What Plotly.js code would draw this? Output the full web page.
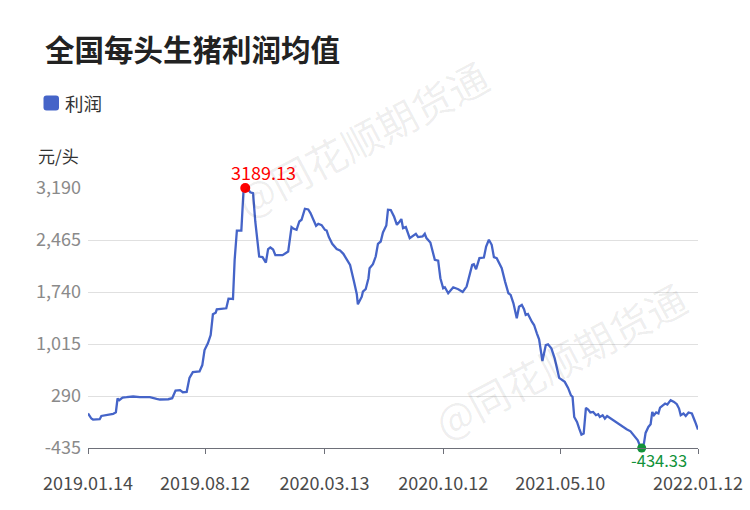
<!DOCTYPE html>
<html>
<head>
<meta charset="utf-8">
<script src="https://cdn.plot.ly/plotly-3.0.1.min.js"></script>
<style>
html,body{margin:0;padding:0;background:#fff;}
#chart{width:750px;height:510px;}
</style>
</head>
<body>
<div id="chart"></div>
<script>
const seriesName = '利润';
const dates = [
'2019-01-14','2019-01-20','2019-01-23','2019-02-04','2019-02-07','2019-02-16','2019-02-28','2019-03-05','2019-03-08','2019-03-11',
'2019-03-17','2019-03-24','2019-04-05','2019-04-17','2019-05-05','2019-05-17','2019-05-23','2019-06-07','2019-06-14','2019-06-20',
'2019-06-28','2019-07-03','2019-07-10','2019-07-15','2019-07-21','2019-08-02','2019-08-07','2019-08-11','2019-08-17','2019-08-22',
'2019-08-26','2019-08-31','2019-09-02','2019-09-19','2019-09-23','2019-10-01','2019-10-04','2019-10-08','2019-10-16','2019-10-20',
'2019-10-23','2019-10-28','2019-11-01','2019-11-06','2019-11-10','2019-11-17','2019-11-23','2019-11-29','2019-12-03','2019-12-07',
'2019-12-12','2019-12-16','2019-12-29','2020-01-08','2020-01-14','2020-01-18','2020-01-23','2020-01-28','2020-02-01','2020-02-07',
'2020-02-13','2020-02-17','2020-02-22','2020-02-27','2020-03-02','2020-03-08','2020-03-14','2020-03-17','2020-03-21','2020-03-27',
'2020-04-04','2020-04-10','2020-04-16','2020-04-28','2020-05-05','2020-05-10','2020-05-12','2020-05-19','2020-05-21','2020-05-26',
'2020-05-31','2020-06-02','2020-06-08','2020-06-13','2020-06-17','2020-06-22','2020-06-26','2020-07-02','2020-07-05','2020-07-10',
'2020-07-16','2020-07-21','2020-07-26','2020-07-29','2020-08-01','2020-08-06','2020-08-13','2020-08-18','2020-08-24','2020-08-28',
'2020-09-05','2020-09-09','2020-09-12','2020-09-19','2020-09-27','2020-10-03','2020-10-07','2020-10-12','2020-10-15','2020-10-21',
'2020-10-30','2020-11-08','2020-11-16','2020-11-23','2020-11-29','2020-12-03','2020-12-06','2020-12-10','2020-12-16','2020-12-24',
'2020-12-28','2021-01-02','2021-01-07','2021-01-11','2021-01-16','2021-01-25','2021-01-31','2021-02-06','2021-02-10','2021-02-15',
'2021-02-21','2021-02-25','2021-03-02','2021-03-06','2021-03-09','2021-03-13','2021-03-20','2021-03-24','2021-03-29','2021-04-02',
'2021-04-08','2021-04-14','2021-04-18','2021-04-24','2021-04-30','2021-05-08','2021-05-18','2021-05-24','2021-05-29','2021-06-01',
'2021-06-04','2021-06-09','2021-06-13','2021-06-17','2021-06-21','2021-06-25','2021-06-29','2021-07-03','2021-07-08','2021-07-13',
'2021-07-17','2021-07-20','2021-07-25','2021-07-29','2021-08-02','2021-08-07','2021-08-13','2021-08-25','2021-09-06','2021-09-13',
'2021-09-20','2021-09-26','2021-09-30','2021-10-03','2021-10-07','2021-10-10','2021-10-15','2021-10-19','2021-10-22','2021-10-25',
'2021-10-29','2021-11-02','2021-11-05','2021-11-11','2021-11-14','2021-11-18','2021-11-24','2021-11-30','2021-12-05','2021-12-09',
'2021-12-12','2021-12-17','2021-12-21','2021-12-26','2022-01-01','2022-01-07','2022-01-12'
];
const profit = [
46,-24,-38,-34,12,26,40,64,255,232,
269,273,283,273,273,250,241,245,259,367,
371,343,348,543,623,633,721,930,1024,1140,
1429,1452,1499,1513,1647,1643,2188,2597,2597,3166,
3189.13,3176,3129,3117,2723,2234,2226,2150,2338,2360,
2332,2254,2254,2304,2645,2621,2607,2723,2747,2901,
2891,2841,2747,2663,2691,2673,2607,2597,2505,2412,
2338,2318,2272,2118,1885,1713,1569,1675,1745,1779,
1932,2072,2128,2234,2412,2444,2570,2667,2887,2883,
2789,2677,2723,2757,2631,2645,2491,2523,2551,2505,
2514,2551,2491,2430,2188,2178,1932,1792,1806,1723,
1806,1779,1741,1815,2002,2118,2128,2058,2212,2220,
2374,2468,2398,2226,2212,2072,1885,1723,1699,1583,
1373,1535,1559,1499,1419,1433,1326,1280,1164,1080,
777,1000,1010,954,814,543,487,403,301,278,
-2,-72,-164,-248,-234,124,102,60,68,22,
36,-2,22,-24,12,-16,-38,-118,-174,-202,
-272,-328,-407,-434.33,-374,-225,-142,-104,68,22,
60,46,129,162,185,171,232,208,176,115,
22,46,12,60,46,-72,-178
];
const xTickVals = ['2019-01-14','2019-08-12','2020-03-13','2020-10-12','2021-05-10','2022-01-12'];
const xTickText = ['2019.01.14','2019.08.12','2020.03.13','2020.10.12','2021.05.10','2022.01.12'];
const yTickVals = [-435, 290, 1015, 1740, 2465, 3190];
const yTickText = ['-435', '290', '1,015', '1,740', '2,465', '3,190'];

const FONT = '"Noto Sans CJK SC", "Noto Sans", sans-serif';
const LINE = '#4564c8';
const W = 610, H = 260, L = 88, T = 188;
const px = v => (v - L) / W;
const py = v => (T + H - v) / H;

let iMax = 0, iMin = 0;
profit.forEach((v, i) => { if (v > profit[iMax]) iMax = i; if (v < profit[iMin]) iMin = i; });

const traces = [
  {x: dates, y: profit, type: 'scatter', mode: 'lines', name: seriesName,
   line: {color: LINE, width: 2.3}, hoverinfo: 'x+y', showlegend: false},
  {x: [dates[iMax]], y: [profit[iMax]], type: 'scatter', mode: 'markers',
   marker: {color: '#ff0000', size: 10}, showlegend: false, cliponaxis: false},
  {x: [dates[iMin]], y: [profit[iMin]], type: 'scatter', mode: 'markers',
   marker: {color: '#12923a', size: 9}, showlegend: false, cliponaxis: false}
];

// rounded legend swatch path in paper coords
const sx0 = px(43.5), sx1 = px(59), sy0 = py(110.5), sy1 = py(95.5);
const rx = 3 / W, ry = 3 / H;
const swatch = `M ${sx0 + rx},${sy1} L ${sx1 - rx},${sy1} Q ${sx1},${sy1} ${sx1},${sy1 - ry} ` +
  `L ${sx1},${sy0 + ry} Q ${sx1},${sy0} ${sx1 - rx},${sy0} L ${sx0 + rx},${sy0} Q ${sx0},${sy0} ${sx0},${sy0 + ry} ` +
  `L ${sx0},${sy1 - ry} Q ${sx0},${sy1} ${sx0 + rx},${sy1} Z`;

const layout = {
  width: 750, height: 510,
  margin: {l: L, r: 52, t: T, b: 62},
  paper_bgcolor: '#fff', plot_bgcolor: '#fff',
  font: {family: FONT},
  showlegend: false,
  xaxis: {
    type: 'date', range: ['2019-01-14', '2022-01-12'],
    tickvals: xTickVals, ticktext: xTickText,
    showgrid: false, zeroline: false,
    showline: true, linecolor: '#6e7079', linewidth: 1,
    ticks: 'outside', ticklen: 5, tickcolor: '#6e7079',
    tickfont: {size: 18, color: '#4a4a4a', family: FONT},
    ticklabelstandoff: 14
  },
  yaxis: {
    range: [-435, 3190],
    tickvals: yTickVals, ticktext: yTickText,
    showgrid: true, gridcolor: '#e0e0e0', gridwidth: 1,
    zeroline: false, showline: false, ticks: '',
    tickfont: {size: 18, color: '#8a8a8a', family: FONT},
    ticklabelstandoff: 6
  },
  shapes: [
    {type: 'path', xref: 'paper', yref: 'paper', path: swatch,
     fillcolor: LINE, line: {width: 0}, layer: 'above'}
  ],
  annotations: [
    {text: '<b>全国每头生猪利润均值</b>', xref: 'paper', yref: 'paper',
     x: px(43), y: py(48), xanchor: 'left', yanchor: 'middle',
     showarrow: false, font: {size: 29.5, color: '#222', family: FONT}},
    {text: seriesName, xref: 'paper', yref: 'paper',
     x: px(63), y: py(103), xanchor: 'left', yanchor: 'middle',
     showarrow: false, font: {size: 18.5, color: '#333', family: FONT}},
    {text: '元/头', xref: 'paper', yref: 'paper',
     x: px(58.5), y: py(155), xanchor: 'center', yanchor: 'middle',
     showarrow: false, font: {size: 17, color: '#333', family: FONT}},
    {text: profit[iMax].toFixed(2), x: dates[iMax], y: profit[iMax], xref: 'x', yref: 'y',
     xanchor: 'center', yanchor: 'middle', xshift: 18, yshift: 16, showarrow: false,
     font: {size: 18, color: '#ff0000', family: FONT}},
    {text: profit[iMin].toFixed(2), x: dates[iMin], y: profit[iMin], xref: 'x', yref: 'y',
     xanchor: 'center', yanchor: 'middle', xshift: 17, yshift: -12.5, showarrow: false,
     font: {size: 16.5, color: '#12923a', family: FONT}},
    {text: '@同花顺期货通', xref: 'paper', yref: 'paper',
     x: px(362), y: py(138), xanchor: 'center', yanchor: 'middle',
     showarrow: false, textangle: -28, font: {size: 40, color: 'rgba(0,0,0,0.07)', family: FONT}},
    {text: '@同花顺期货通', xref: 'paper', yref: 'paper',
     x: px(560), y: py(360), xanchor: 'center', yanchor: 'middle',
     showarrow: false, textangle: -28, font: {size: 40, color: 'rgba(0,0,0,0.07)', family: FONT}}
  ]
};

Plotly.newPlot('chart', traces, layout, {displayModeBar: false, staticPlot: true});
</script>
</body>
</html>
